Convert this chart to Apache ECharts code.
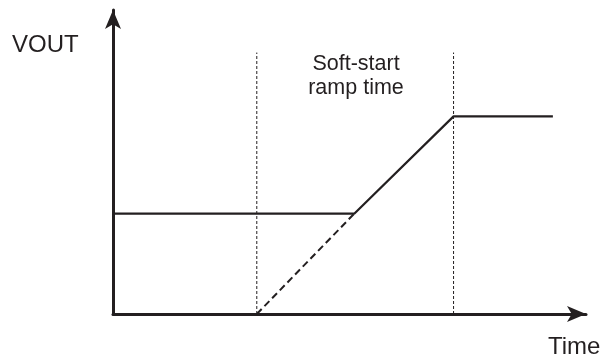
<!DOCTYPE html>
<html>
<head>
<meta charset="utf-8">
<script src="https://cdn.jsdelivr.net/npm/echarts@6/dist/echarts.min.js"></script>
<style>
html,body{margin:0;padding:0;background:#fff;}
#chart{width:605px;height:356px;}
</style>
</head>
<body>
<div id="chart"></div>
<script>
// Output voltage trace (solid)
const voutTimes = [0, 51, 72, 93];
const voutValues = [33, 33, 65, 65];
// Extrapolated ramp (dashed)
const rampTimes = [30.4, 51];
const rampValues = [0, 33];
// Soft-start window markers (dotted verticals)
const markerTimes = [30.4, 72];
const markerTop = 86;
// Texts
const yAxisLabel = 'VOUT';
const xAxisLabel = 'Time';
const windowLabel = 'Soft-start\nramp time';

const ink = '#231f20';
const font = "'Liberation Sans', Arial, Helvetica, sans-serif";

const zip = (xs, ys) => xs.map((x, i) => [x, ys[i]]);

const markerSeries = markerTimes.map(t => ({
  type: 'line',
  data: [[t, 0], [t, markerTop]],
  symbol: 'none',
  silent: true,
  lineStyle: { color: ink, width: 1, type: [3, 2] },
  z: 1
}));

const chart = echarts.init(document.getElementById('chart'), null, { renderer: 'canvas' });
chart.setOption({
  animation: false,
  backgroundColor: '#ffffff',
  grid: { left: 113, right: 19, top: 10, bottom: 42, containLabel: false },
  xAxis: {
    type: 'value', min: 0, max: 100,
    axisLine: { show: true, onZero: false, symbol: ['none', 'arrow'], symbolSize: [12, 19],
      lineStyle: { color: ink, width: 3 } },
    axisTick: { show: false }, axisLabel: { show: false }, splitLine: { show: false }
  },
  yAxis: {
    type: 'value', min: 0, max: 100,
    axisLine: { show: true, onZero: false, symbol: ['none', 'arrow'], symbolSize: [12, 19],
      lineStyle: { color: ink, width: 3 } },
    axisTick: { show: false }, axisLabel: { show: false }, splitLine: { show: false }
  },
  series: [
    ...markerSeries,
    {
      type: 'line', data: zip(rampTimes, rampValues), symbol: 'none', silent: true,
      lineStyle: { color: ink, width: 2, type: [7, 4] }, z: 2
    },
    {
      type: 'line', data: zip(voutTimes, voutValues), symbol: 'none', silent: true,
      lineStyle: { color: ink, width: 2.2 }, z: 3
    }
  ],
  graphic: [
    { type: 'text', x: 12, y: 33, style: { text: yAxisLabel, font: '24px ' + font, fill: ink,
      align: 'left', verticalAlign: 'top' } },
    { type: 'text', x: 548, y: 335, style: { text: xAxisLabel, font: '24px ' + font, fill: ink,
      align: 'left', verticalAlign: 'top' } },
    { type: 'text', x: 356, y: 52, style: { text: windowLabel, font: '21.5px ' + font, fill: ink,
      align: 'center', verticalAlign: 'top', lineHeight: 24 } }
  ]
});
</script>
</body>
</html>
